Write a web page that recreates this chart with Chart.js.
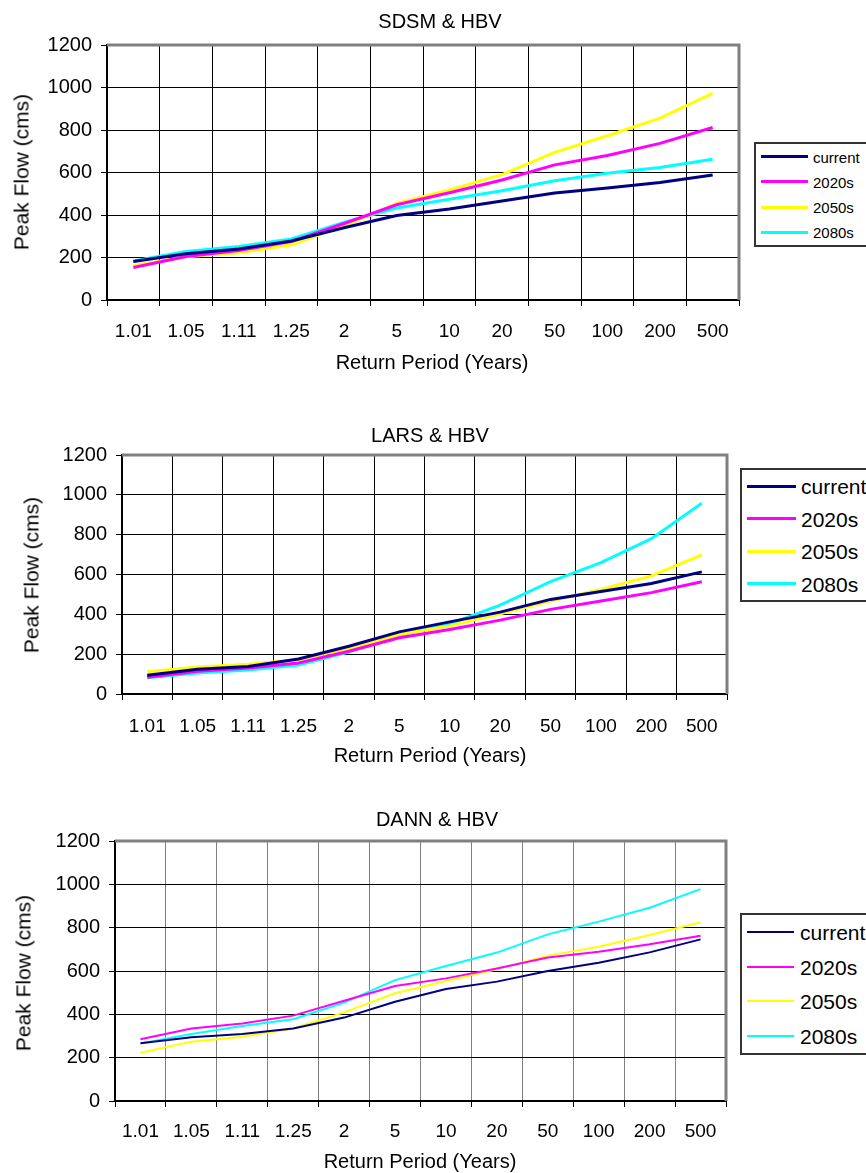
<!DOCTYPE html>
<html>
<head>
<meta charset="utf-8">
<title>Peak flow vs return period</title>
<script src="https://cdn.jsdelivr.net/npm/chart.js@4/dist/chart.umd.min.js"></script>
<style>
    html, body { margin: 0; padding: 0; width: 866px; height: 1173px; overflow: hidden; background: #fff; }
    body { position: relative; font-family: Arial, "Liberation Sans", sans-serif; color: #000; }
    .panel { position: absolute; left: 0; width: 866px; }
    .panel canvas { position: absolute; left: 0; top: 0; }
    .txt { position: absolute; white-space: nowrap; transform: translate(-50%, -50%); line-height: 1; }
    .chart-title { font-size: 20px; }
    .x-title { font-size: 20px; }
    .y-title { font-size: 21px; transform: translate(-50%, -50%) rotate(-90deg); }
    .legend { position: absolute; box-sizing: border-box; border: 2px solid #333; background: #fff; width: 180px; }
    .legend-row { position: relative; white-space: nowrap; }
    .legend-row span.swatch { position: absolute; top: 50%; }
    .legend-row span.label { position: absolute; top: 50%; transform: translateY(-50%); line-height: 1; }
</style>
</head>
<body>

<div class="panel" id="panel-sdsm" style="top:0;height:380px"><canvas id="chart-sdsm" width="866" height="380"></canvas></div>
<div class="panel" id="panel-lars" style="top:380px;height:400px"><canvas id="chart-lars" width="866" height="400"></canvas></div>
<div class="panel" id="panel-dann" style="top:780px;height:393px"><canvas id="chart-dann" width="866" height="393"></canvas></div>

<script>
// Return periods (category axis)
const returnPeriods = ['1.01', '1.05', '1.11', '1.25', '2', '5', '10', '20', '50', '100', '200', '500'];
const seriesNames = ['current', '2020s', '2050s', '2080s'];
const seriesColors = ['#000080', '#FF00FF', '#FFFF00', '#00FFFF'];
const yTicks = [0, 200, 400, 600, 800, 1000, 1200];

// SDSM & HBV
const sdsmCurrent = [181, 218, 240, 278, 340, 398, 428, 466, 503, 527, 553, 588];
const sdsm2020s   = [153, 205, 233, 275, 360, 448, 505, 565, 636, 680, 737, 812];
const sdsm2050s   = [163, 203, 222, 260, 348, 455, 518, 590, 695, 773, 856, 972];
const sdsm2080s   = [184, 228, 252, 287, 365, 433, 474, 514, 561, 596, 624, 662];

// LARS & HBV
const larsCurrent = [94, 124, 138, 176, 240, 312, 362, 411, 475, 515, 555, 613];
const lars2020s   = [84, 114, 130, 156, 215, 282, 324, 371, 425, 467, 509, 564];
const lars2050s   = [112, 136, 150, 172, 228, 299, 342, 403, 467, 525, 593, 698];
const lars2080s   = [81, 106, 121, 146, 211, 295, 352, 446, 564, 660, 780, 958];

// DANN & HBV
const dannCurrent = [266, 294, 309, 335, 385, 458, 517, 551, 600, 638, 686, 746];
const dann2020s   = [285, 335, 358, 394, 463, 531, 566, 612, 662, 689, 723, 763];
const dann2050s   = [223, 274, 297, 335, 409, 497, 554, 608, 671, 712, 766, 825];
const dann2080s   = [266, 309, 346, 377, 454, 558, 623, 685, 769, 828, 892, 978];

const FONT = 'Arial, "Liberation Sans", sans-serif';

// gray frame on top / right of plot area (excel style)
const framePlugin = {
    id: 'frame',
    beforeDatasetsDraw(chart) {
        const { ctx, chartArea: a } = chart;
        ctx.save();
        ctx.strokeStyle = '#808080';
        ctx.lineWidth = 3;
        ctx.beginPath();
        ctx.moveTo(a.left, a.top);
        ctx.lineTo(a.right, a.top);
        ctx.lineTo(a.right, a.bottom);
        ctx.stroke();
        ctx.restore();
    }
};

function buildChart(canvasId, seriesData, cfg) {
    const ctx = document.getElementById(canvasId);
    const H = ctx.height;
    return new Chart(ctx, {
        type: 'line',
        data: {
            labels: returnPeriods,
            datasets: seriesData.map((d, i) => ({
                label: seriesNames[i],
                data: d,
                borderColor: seriesColors[i],
                backgroundColor: seriesColors[i],
                borderWidth: cfg.lineWidth,
                pointRadius: 0,
                tension: 0,
                fill: false
            }))
        },
        options: {
            responsive: false,
            animation: false,
            events: [],
            layout: { padding: { left: 0, top: cfg.top, right: 866 - cfg.right, bottom: H - cfg.bottom - 60 } },
            plugins: { legend: { display: false }, tooltip: { enabled: false }, title: { display: false } },
            scales: {
                x: {
                    offset: true,
                    grid: { offset: true, color: cfg.vGrid, lineWidth: 1, tickLength: 6, tickColor: '#000' },
                    border: { color: '#000', width: 2 },
                    ticks: { color: '#000', font: { family: FONT, size: 19 }, padding: cfg.tickPad, maxRotation: 0, autoSkip: false },
                    afterFit: s => { s.height = 60; }
                },
                y: {
                    min: 0,
                    max: 1200,
                    afterBuildTicks: s => { s.ticks = yTicks.map(v => ({ value: v })); },
                    grid: { color: '#000', lineWidth: 1, tickLength: 6 },
                    border: { color: '#000', width: 2 },
                    ticks: { color: '#000', font: { family: FONT, size: 20 }, padding: 9, callback: v => String(v) },
                    afterFit: s => { s.width = cfg.left; }
                }
            }
        },
        plugins: [framePlugin]
    });
}

function addText(panelId, cls, text, x, y) {
    const el = document.createElement('div');
    el.className = 'txt ' + cls;
    el.style.left = x + 'px';
    el.style.top = y + 'px';
    el.innerText = text;
    document.getElementById(panelId).appendChild(el);
}

function addLegend(panelId, lg) {
    const box = document.createElement('div');
    box.className = 'legend';
    box.style.left = lg.x + 'px';
    box.style.top = lg.y + 'px';
    box.style.height = lg.h + 'px';
    const rowH = (lg.h - 4) / seriesNames.length;
    box.innerHTML = seriesNames.map((name, i) => `
        <div class="legend-row" style="height:${rowH}px">
            <span class="swatch" style="left:${lg.lineX - 2}px;width:${lg.lineW}px;border-top:${lg.lineWidth}px solid ${seriesColors[i]};margin-top:-${lg.lineWidth / 2}px"></span>
            <span class="label" style="left:${lg.textX - 2}px;font-size:${lg.font}px">${name}</span>
        </div>`).join('');
    document.getElementById(panelId).appendChild(box);
}

buildChart('chart-sdsm', [sdsmCurrent, sdsm2020s, sdsm2050s, sdsm2080s],
    { left: 107, right: 739, top: 45, bottom: 300, tickPad: 14, vGrid: '#000', lineWidth: 3 });
buildChart('chart-lars', [larsCurrent, lars2020s, lars2050s, lars2080s],
    { left: 122, right: 727, top: 75, bottom: 314, tickPad: 15, vGrid: '#000', lineWidth: 3 });
buildChart('chart-dann', [dannCurrent, dann2020s, dann2050s, dann2080s],
    { left: 115, right: 726, top: 61, bottom: 321, tickPad: 13, vGrid: '#808080', lineWidth: 2 });

addText('panel-sdsm', 'chart-title', 'SDSM & HBV', 440, 21);
addText('panel-lars', 'chart-title', 'LARS & HBV', 430, 55);
addText('panel-dann', 'chart-title', 'DANN & HBV', 437, 39);

addText('panel-sdsm', 'x-title', 'Return Period (Years)', 432, 362);
addText('panel-lars', 'x-title', 'Return Period (Years)', 430, 375);
addText('panel-dann', 'x-title', 'Return Period (Years)', 420, 381);

addText('panel-sdsm', 'y-title', 'Peak Flow (cms)', 21, 172);
addText('panel-lars', 'y-title', 'Peak Flow (cms)', 31, 195);
addText('panel-dann', 'y-title', 'Peak Flow (cms)', 23, 193);

addLegend('panel-sdsm', { x: 754, y: 142, h: 105, lineX: 7, lineW: 47, textX: 59, lineWidth: 3, font: 15 });
addLegend('panel-lars', { x: 740, y: 88, h: 134, lineX: 7, lineW: 49, textX: 61, lineWidth: 3, font: 21 });
addLegend('panel-dann', { x: 740, y: 133, h: 142, lineX: 7, lineW: 47, textX: 60, lineWidth: 2, font: 21 });
</script>
</body>
</html>
